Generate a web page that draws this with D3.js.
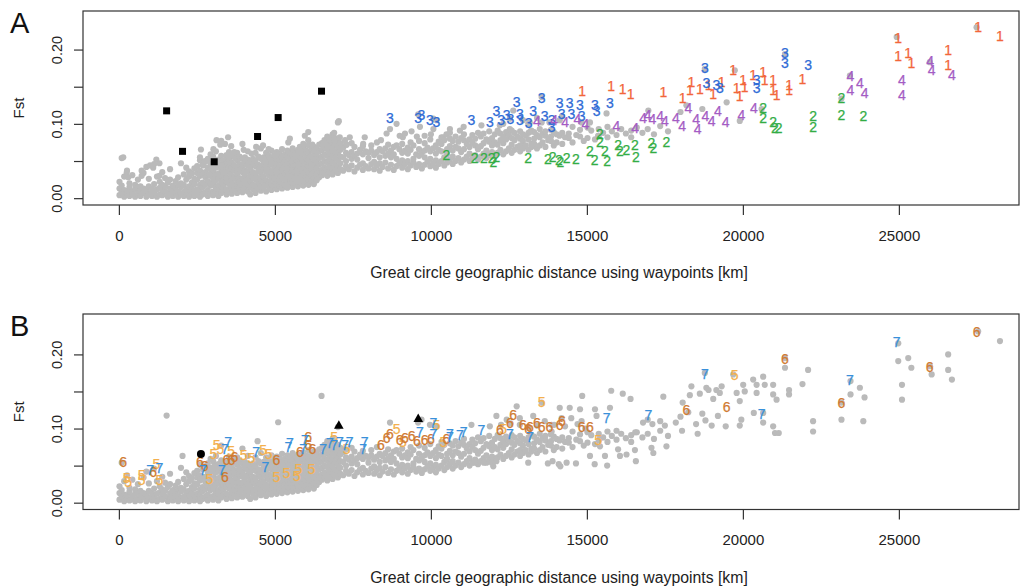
<!DOCTYPE html>
<html>
<head>
<meta charset="utf-8">
<script src="https://cdn.jsdelivr.net/npm/d3@7"></script>
<style>
  body { margin: 0; background: #fff; }
  svg { font-family: "Liberation Sans", Arial, Helvetica, sans-serif; }
</style>
</head>
<body>
<div id="chart"></div>
<script>

// Fst vs great circle distance, two panels (A: groups 1-4, B: groups 5-7)

const width = 1022;
const height = 587;

// x tick values and y tick values
const xTicks = [0, 5000, 10000, 15000, 20000, 25000];
const yTicks = [0, 0.05, 0.1, 0.15, 0.2];
const yLabelled = [0, 0.1, 0.2];

// background pairs, column by column: [km, [Fst values]]
const greyCols = [
  [20,[.004,.013,.022]],[90,[.008,.017,.054]],[170,[.002,.011,.029]],[260,[.006,.010,.037]],
  [340,[.003,.015,.020]],[430,[.009,.031,.005]],[520,[.002,.012,.018]],[610,[.006,.014,.025]],
  [690,[.003,.010,.016]],[790,[.007,.013,.034]],[880,[.002,.011,.042]],[960,[.005,.016,.026]],
  [1060,[.003,.009,.013]],[1130,[.007,.019,.046]],[1220,[.002,.012,.029]],[1310,[.005,.014,.022]],
  [1390,[.004,.011,.018,.035]],[1480,[.009,.016,.027]],[1570,[.002,.007,.021]],[1640,[.005,.013,.025,.039]],
  [1730,[.003,.010,.017]],[1820,[.007,.014,.023]],[1900,[.002,.009,.018,.028]],[1990,[.006,.015,.020,.047]],
  [2080,[.003,.008,.018,.032]],[2160,[.005,.012,.025,.041]],[2250,[.002,.011,.016,.029,.036]],[2340,[.006,.013,.021,.033]],
  [2420,[.003,.010,.019,.026,.040]],[2510,[.007,.012,.025,.034,.043]],[2600,[.002,.009,.018,.030,.037,.051]],[2680,[.005,.015,.021,.032,.045]],
  [2770,[.008,.018,.028,.035,.049]],[2850,[.003,.011,.023,.032,.041,.053]],[2940,[.006,.017,.020,.030,.039,.047,.059]],[3020,[.004,.009,.019,.026,.036,.043,.056]],
  [3110,[.008,.014,.024,.031,.041,.050,.063]],[3190,[.003,.012,.017,.027,.033,.044,.052]],[3280,[.007,.016,.021,.029,.039,.046,.057,.077]],[3360,[.010,.018,.024,.034,.041,.051]],
  [3450,[.005,.012,.022,.028,.036,.047,.054]],[3530,[.009,.019,.025,.035,.042,.053,.062]],[3620,[.006,.014,.024,.030,.040,.048,.058]],[3700,[.012,.018,.028,.037,.044,.055]],
  [3790,[.007,.016,.023,.033,.040,.051,.061]],[3870,[.013,.021,.027,.038,.046,.056]],[3960,[.008,.017,.026,.035,.042,.053,.073]],[4040,[.014,.020,.030,.037,.048,.055]],
  [4130,[.009,.019,.025,.036,.044,.052,.063]],[4210,[.005,.015,.023,.030,.041,.049]],[4300,[.012,.018,.028,.035,.046,.053]],[4380,[.007,.017,.025,.033,.043,.050,.061]],
  [4470,[.013,.021,.027,.038,.045,.056]],[4550,[.010,.016,.026,.034,.043,.053,.067]],[4640,[.014,.022,.029,.039,.047,.055]],[4720,[.009,.019,.024,.036,.044,.052,.061]],
  [4810,[.015,.021,.031,.038,.048,.057]],[4890,[.011,.018,.027,.035,.045,.054,.064]],[4980,[.016,.023,.030,.040,.049,.058]],[5060,[.012,.020,.028,.037,.046,.053,.062]],
  [5150,[.017,.024,.033,.041,.051,.060]],[5230,[.013,.019,.029,.038,.045,.055,.066]],[5320,[.018,.025,.032,.043,.050,.059]],[5400,[.014,.022,.030,.036,.047,.056,.064]],
  [5490,[.019,.026,.034,.042,.052,.061]],[5570,[.015,.021,.031,.039,.048,.057,.067]],[5660,[.020,.027,.035,.044,.053,.062]],[5740,[.016,.023,.032,.040,.049,.058,.065]],
  [5830,[.021,.028,.036,.045,.054,.063]],[5910,[.017,.024,.033,.041,.050,.060,.068]],[6000,[.022,.029,.037,.046,.055,.064]],[6080,[.018,.025,.034,.043,.051,.061,.071]],
  [6170,[.023,.030,.039,.047,.056,.066]],[6250,[.019,.027,.035,.044,.053,.062,.069]],[6340,[.024,.032,.040,.049,.058,.067]],[6420,[.028,.036,.045,.054,.063,.072]],
  [6510,[.031,.038,.047,.056,.065,.074]],[6590,[.034,.041,.050,.059,.068,.078]],[6680,[.030,.039,.048,.057,.066,.073,.083]],[6760,[.036,.043,.052,.061,.070,.079]],
  [6850,[.032,.040,.049,.058,.067,.076,.086]],[6930,[.037,.045,.054,.063,.072,.081]],[7020,[.034,.042,.051,.060,.069,.078,.102]],[7100,[.039,.047,.056,.065,.074]],
  [7190,[.037,.055,.068]],[7280,[.043,.050,.061,.072]],[7370,[.039,.058]],[7460,[.044,.053,.062,.074]],
  [7550,[.036,.057,.069]],[7640,[.041,.052,.060]],[7730,[.045,.065]],[7820,[.038,.047,.059,.070]],
  [7910,[.043,.063]],[8000,[.040,.054,.061]],[8090,[.046,.064,.071]],[8180,[.039,.049,.058]],
  [8270,[.044,.062,.075]],[8360,[.037,.047,.055,.066]],[8450,[.042,.063]],[8540,[.048,.057,.067]],
  [8630,[.040,.060,.072]],[8720,[.045,.055,.064]],[8810,[.038,.059,.069]],[8900,[.043,.053,.071]],
  [8990,[.047,.066]],[9080,[.041,.051,.061,.073]],[9170,[.046,.064]],[9260,[.039,.050,.060,.068]],
  [9350,[.044,.065,.075]],[9440,[.048,.053,.071]],[9530,[.042,.059]],[9620,[.046,.057,.066,.077]],
  [9710,[.040,.061]],[9800,[.045,.055,.064,.074]],[9890,[.049,.068]],[9980,[.043,.053,.063,.079]],
  [10070,[.047,.067]],[10160,[.041,.051,.060,.071]],[10250,[.046,.065,.076]],[10340,[.050,.063,.073,.082]],
  [10430,[.044,.055,.078]],[10520,[.048,.059,.066]],[10610,[.052,.070,.080]],[10700,[.046,.056,.064,.077]],
  [10790,[.050,.069,.083]],[10880,[.054,.067,.076]],[10970,[.048,.062,.081]],[11060,[.052,.066,.078,.086]],
  [11150,[.056,.073]],[11240,[.050,.060,.069,.079]],[11330,[.054,.075,.085]],[11420,[.058,.071,.080]],
  [11510,[.052,.066,.088]],[11600,[.056,.070,.083]],[11690,[.060,.074,.087]],[11780,[.054,.064,.079]],
  [11870,[.058,.076,.090]],[11960,[.062,.071,.081]],[12050,[.057,.075,.086]],[12140,[.061,.072,.091]],
  [12230,[.065,.078,.087]],[12320,[.059,.074,.083]],[12410,[.063,.079,.089]],[12500,[.067,.085]],
  [12590,[.061,.072,.081,.091]],[12680,[.065,.078,.088]],[12770,[.069,.083]],[12860,[.063,.071,.080,.090]],
  [12950,[.067,.077,.086]],[13040,[.071,.084]],[13130,[.065,.079,.088]],[13220,[.069,.073,.091]],
  [13310,[.073,.080,.089]],[13400,[.067,.085]],[13490,[.071,.082,.093]],[13580,[.075,.087]],
  [13670,[.069,.084,.090]],[13760,[.078]],[13850,[.077,.083,.092]],[13940,[.071,.089]],
  [14030,[.075,.086]],[14120,[.084]],[14210,[.073,.088]],[14300,[.082]],
  [14420,[.081,.087]],[14540,[.075,.096]],[14660,[.085]],[14780,[.083,.092]],
  [14900,[.077]],[15020,[.081,.095]],[15140,[.091]],[15260,[.079]],
  [15380,[.084,.093]],[15520,[.088]],[15660,[.082,.096]],[15800,[.090]],
  [15950,[.085]],[16100,[.093]],[16250,[.087]],[16420,[.091,.082]],
  [16600,[.095]],[16780,[.088]],[16950,[.093]],[17150,[.086]],
  [17350,[.097]],[17600,[.090]],[18000,[.116]],[18700,[.120]],[19900,[.104]]
];

// panel A groups [km, Fst]
const group1 = [[14850,.144],[15780,.151],[16150,.147],[16400,.140],[17450,.143],[18070,.135],[18300,.145],[18350,.157],
  [18620,.147],[18900,.152],[19050,.140],[19320,.157],[19690,.173],[19800,.148],[19900,.137],[20010,.159],[20060,.150],
  [20330,.166],[20650,.170],[20700,.159],[20970,.159],[20970,.146],[21080,.139],[21480,.152],[21480,.146],[21910,.160],
  [24980,.215],[24980,.191],[25300,.195],[25400,.182],[26580,.200],[26580,.179],[27540,.231],[28240,.218]];
const group2 = [[10500,.058],[11400,.054],[11700,.054],[11950,.054],[12000,.049],[12100,.056],[13120,.054],[13750,.053],
  [13900,.056],[14100,.052],[14150,.049],[14350,.054],[14650,.053],[15100,.063],[15250,.052],[15420,.087],[15420,.076],
  [15580,.063],[15650,.050],[16000,.072],[16060,.063],[16270,.065],[16540,.071],[16570,.056],[17070,.074],[17130,.067],
  [17550,.076],[20650,.121],[20650,.108],[20970,.103],[21030,.094],[21150,.094],[22250,.110],[22250,.096],[23160,.135],
  [23160,.112],[23860,.110]];
const group3 = [[8690,.108],[9590,.108],[9700,.112],[9970,.105],[10180,.103],[11300,.105],[11890,.103],[12100,.117],
  [12250,.105],[12430,.112],[12550,.107],[12750,.130],[12850,.105],[12850,.114],[13130,.101],[13280,.117],[13550,.135],
  [13650,.110],[13870,.105],[13870,.096],[14130,.128],[14190,.114],[14450,.128],[14500,.114],[14780,.126],[14830,.110],
  [15260,.126],[15310,.117],[15740,.128],[18780,.175],[18830,.155],[19150,.152],[19260,.148],[20440,.159],[20440,.148],
  [21350,.195],[21350,.182],[22090,.179]];
const group4 = [[13400,.104],[13950,.105],[14300,.103],[14700,.106],[14950,.100],[15950,.097],[16550,.095],[16800,.108],
  [16950,.112],[17100,.106],[17350,.110],[17500,.104],[17850,.108],[18050,.097],[18250,.122],[18500,.106],[18550,.093],
  [18800,.111],[19000,.104],[19200,.117],[19450,.103],[19950,.112],[20350,.121],[23450,.164],[23450,.146],[23750,.155],
  [23900,.142],[25100,.159],[25100,.139],[26000,.184],[26050,.173],[26700,.166]];
const squaresA = [[1530,.1175],[2040,.063],[3055,.049],[4445,.083],[5105,.1085],[6495,.144]];

// panel B groups [km, Fst]
const group5 = [[250,.034],[300,.028],[730,.037],[730,.030],[1300,.030],[1200,.052],[2900,.032],[3030,.066],[3130,.078],
  [3250,.072],[3600,.070],[4000,.065],[4250,.060],[4620,.071],[4800,.066],[5050,.035],[5370,.040],[5700,.036],[5750,.045],
  [6170,.045],[6900,.088],[7300,.072],[8900,.100],[9100,.082],[10180,.105],[10400,.082],[12320,.100],[13550,.136],
  [15360,.084],[19740,.172]];
const group6 = [[140,.055],[1100,.041],[2600,.055],[2750,.050],[3450,.058],[3610,.058],[3400,.035],[3700,.062],[5050,.058],
  [5800,.069],[6070,.089],[6070,.078],[6200,.072],[8400,.078],[8580,.087],[8690,.093],[9000,.084],[9170,.087],[9380,.090],
  [9550,.083],[9800,.084],[10000,.086],[10500,.086],[12210,.098],[12530,.107],[12640,.118],[12950,.105],[13120,.100],
  [13170,.102],[13400,.108],[13550,.102],[13800,.102],[14130,.105],[14200,.110],[14830,.102],[15100,.102],[18190,.125],
  [19480,.129],[21350,.194],[23160,.134],[25990,.183],[27490,.230]];
const group7 = [[1000,.044],[1300,.047],[2700,.044],[3300,.044],[3400,.073],[3500,.082],[4400,.069],[4700,.048],[5430,.075],
  [5480,.080],[5910,.073],[5960,.084],[6550,.073],[6760,.080],[6900,.078],[7080,.082],[7250,.078],[7400,.082],[7830,.073],
  [7880,.082],[9650,.096],[10080,.107],[10080,.093],[10610,.093],[10610,.088],[10930,.091],[11050,.096],[11620,.098],
  [12530,.093],[13170,.089],[15630,.114],[16970,.118],[18780,.174],[20600,.120],[23430,.165],[24930,.217]];
const circleB = [[2630,.0655]];
const trianglesB = [[7050,.1036],[9595,.1127]];

const greyBase = greyCols.flatMap(c => c[1].map(f => [c[0], f]));

// layout
const plotLeft = 83, plotRight = 1019;
const xScale = d3.scaleLinear().domain([-1150, 28850]).range([plotLeft, plotRight]);

const svg = d3.select("#chart").append("svg")
  .attr("width", width)
  .attr("height", height);

function drawPanel(cfg) {
  const yScale = d3.scaleLinear().domain(cfg.yDomain).range([cfg.bottom, cfg.top]);
  const g = svg.append("g");

  // grey background points
  g.selectAll(".grey")
    .data(cfg.grey)
    .enter()
    .append("circle")
      .attr("class", "grey")
      .attr("cx", d => xScale(d[0]))
      .attr("cy", d => yScale(d[1]))
      .attr("r", 3.1)
      .attr("fill", "#bababa");

  // digit labels for the highlighted groups
  cfg.groups.forEach(grp => {
    g.selectAll(null)
      .data(grp.pts)
      .enter()
      .append("text")
        .attr("x", d => xScale(d[0]))
        .attr("y", d => yScale(d[1]))
        .attr("dy", "0.36em")
        .attr("text-anchor", "middle")
        .attr("font-size", 14)
        .attr("fill", grp.color)
        .attr("stroke", grp.color)
        .attr("stroke-width", 0.25)
        .text(grp.label);
  });

  // black markers
  g.selectAll(".sq")
    .data(cfg.squares || [])
    .enter()
    .append("rect")
      .attr("x", d => xScale(d[0]) - 3.5)
      .attr("y", d => yScale(d[1]) - 3.5)
      .attr("width", 7)
      .attr("height", 7)
      .attr("fill", "#000");
  g.selectAll(".dot")
    .data(cfg.circles || [])
    .enter()
    .append("circle")
      .attr("cx", d => xScale(d[0]))
      .attr("cy", d => yScale(d[1]))
      .attr("r", 4)
      .attr("fill", "#000");
  g.selectAll(".tri")
    .data(cfg.triangles || [])
    .enter()
    .append("path")
      .attr("transform", d => `translate(${xScale(d[0])},${yScale(d[1])})`)
      .attr("d", d3.symbol(d3.symbolTriangle, 40))
      .attr("fill", "#000");

  // box
  g.append("rect")
    .attr("x", plotLeft)
    .attr("y", cfg.top)
    .attr("width", plotRight - plotLeft)
    .attr("height", cfg.bottom - cfg.top)
    .attr("fill", "none")
    .attr("stroke", "#333")
    .attr("stroke-width", 1.2);

  // x axis
  const xAxis = g.append("g")
    .attr("transform", `translate(0,${cfg.bottom})`)
    .call(d3.axisBottom(xScale).tickValues(xTicks).tickSize(10).tickPadding(15).tickFormat(d3.format("d")));
  xAxis.select(".domain").remove();
  xAxis.selectAll("line").attr("stroke", "#333").attr("stroke-width", 1.2);
  xAxis.selectAll("text").attr("font-size", 15).attr("fill", "#222")
    .attr("font-family", "Liberation Sans, Arial, sans-serif");

  // y axis, labels rotated like R
  const yAxis = g.append("g")
    .attr("transform", `translate(${plotLeft},0)`)
    .call(d3.axisLeft(yScale).tickValues(yTicks).tickSize(9)
      .tickFormat(d => yLabelled.includes(d) ? d3.format(".2f")(d) : ""));
  yAxis.select(".domain").remove();
  yAxis.selectAll("line").attr("stroke", "#333").attr("stroke-width", 1.2);
  yAxis.selectAll("text")
    .attr("transform", "rotate(-90)")
    .attr("x", 0)
    .attr("y", -21.5)
    .attr("dy", 0)
    .attr("text-anchor", "middle")
    .attr("font-size", 14.5)
    .attr("fill", "#222")
    .attr("font-family", "Liberation Sans, Arial, sans-serif");

  // titles
  g.append("text")
    .attr("transform", `translate(24,${(cfg.top + cfg.bottom) / 2}) rotate(-90)`)
    .attr("text-anchor", "middle")
    .attr("font-size", 15)
    .attr("fill", "#222")
    .text("Fst");
  g.append("text")
    .attr("x", 559)
    .attr("y", cfg.bottom + 73)
    .attr("text-anchor", "middle")
    .attr("font-size", 15.8)
    .attr("fill", "#222")
    .text("Great circle geographic distance using waypoints [km]");
  g.append("text")
    .attr("x", 10)
    .attr("y", cfg.top + 22)
    .attr("font-size", 29)
    .attr("fill", "#111")
    .text(cfg.label);
}

// panel A: groups 1-4 highlighted, B groups shown grey
drawPanel({
  label: "A", top: 11, bottom: 205, yDomain: [-0.0092, 0.2519],
  grey: greyBase.concat(group5, group6, group7, circleB, trianglesB),
  groups: [
    {label: "1", color: "#f2663a", pts: group1},
    {label: "2", color: "#33ad45", pts: group2},
    {label: "3", color: "#2e6bd6", pts: group3},
    {label: "4", color: "#a45cc4", pts: group4}
  ],
  squares: squaresA
});

// panel B: groups 5-7 highlighted, A groups shown grey
drawPanel({
  label: "B", top: 314, bottom: 509.5, yDomain: [-0.0092, 0.2545],
  grey: greyBase.concat(group1, group2, group3, group4, squaresA),
  groups: [
    {label: "5", color: "#f3b04e", pts: group5},
    {label: "6", color: "#d07a32", pts: group6},
    {label: "7", color: "#3990da", pts: group7}
  ],
  circles: circleB,
  triangles: trianglesB
});

</script>
</body>
</html>
